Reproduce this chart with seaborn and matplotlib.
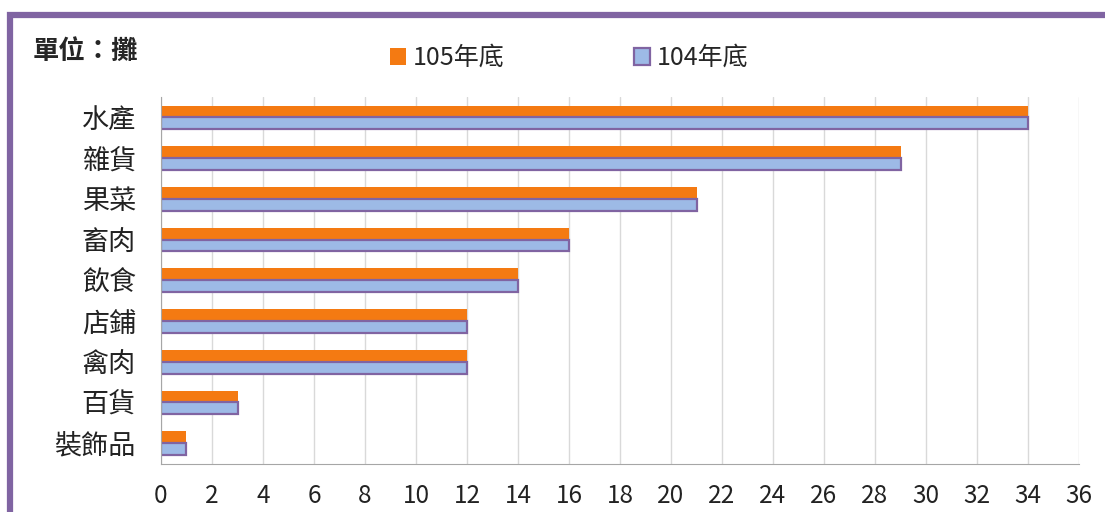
import matplotlib
matplotlib.use("Agg")
import matplotlib.pyplot as plt
import matplotlib.patches as mpatches
import pandas as pd
import seaborn as sns

categories = ["水產", "雜貨", "果菜", "畜肉", "飲食", "店鋪", "禽肉", "百貨", "裝飾品"]
values_105 = [34, 29, 21, 16, 14, 12, 12, 3, 1]
values_104 = [34, 29, 21, 16, 14, 12, 12, 3, 1]
series = ["105年底", "104年底"]
xticks = list(range(0, 37, 2))

sns.set_style("white")
plt.rcParams["font.family"] = ["Noto Sans CJK TC", "DejaVu Sans"]

df = pd.DataFrame({
    "類別": categories * 2,
    "攤數": values_105 + values_104,
    "年度": [series[0]] * len(categories) + [series[1]] * len(categories),
})

orange = "#F47A12"
blue = "#9DBAE6"
purple = "#8064A2"

fig = plt.figure(figsize=(11.05, 5.12), dpi=100)
ax = fig.add_axes([0.1457, 0.0947, 0.8308, 0.7158])

sns.barplot(data=df, y="類別", x="攤數", hue="年度", hue_order=series,
            palette=[orange, blue], orient="h", width=0.58, ax=ax,
            legend=False, errorbar=None, saturation=1)

# purple edge only on the 104 bars
for container, name in zip(ax.containers, series):
    for bar in container:
        if name == "104年底":
            bar.set_edgecolor(purple)
            bar.set_linewidth(1.6)
        else:
            bar.set_linewidth(0)

ax.set_xlim(0, 36)
ax.set_xticks(xticks)
ax.tick_params(axis="x", labelsize=17.5, length=0, pad=14, colors="#222222")
ax.tick_params(axis="y", labelsize=19.5, length=0, pad=18, colors="#222222")
ax.set_xlabel("")
ax.set_ylabel("")
ax.grid(axis="x", color="#D9D9D9", linewidth=1)
ax.set_axisbelow(True)
for side in ["top", "right"]:
    ax.spines[side].set_visible(False)
ax.spines["left"].set_color("#A6A6A6")
ax.spines["bottom"].set_color("#A6A6A6")

handles = [
    mpatches.Patch(facecolor=orange, edgecolor="none", label=series[0]),
    mpatches.Patch(facecolor=blue, edgecolor=purple, linewidth=1.6, label=series[1]),
]
fig.legend(handles=handles, loc="center", bbox_to_anchor=(0.515, 1 - 58 / 512),
           ncol=2, frameon=False, fontsize=18, handlelength=0.65, handleheight=0.65,
           handletextpad=0.25, columnspacing=5.2)

fig.text(33 / 1105, 1 - 51 / 512, "單位：攤", fontsize=19, fontweight="bold",
         va="center", ha="left")

# purple frame around the chart (right/bottom edges fall outside the image)
frame = mpatches.Rectangle((10 / 1105, -0.1), 1.2, 1 - 15 / 512 + 0.1,
                           transform=fig.transFigure, fill=False,
                           edgecolor=purple, linewidth=4.5, clip_on=False)
fig.patches.append(frame)

fig.savefig("out.png", dpi=100)
